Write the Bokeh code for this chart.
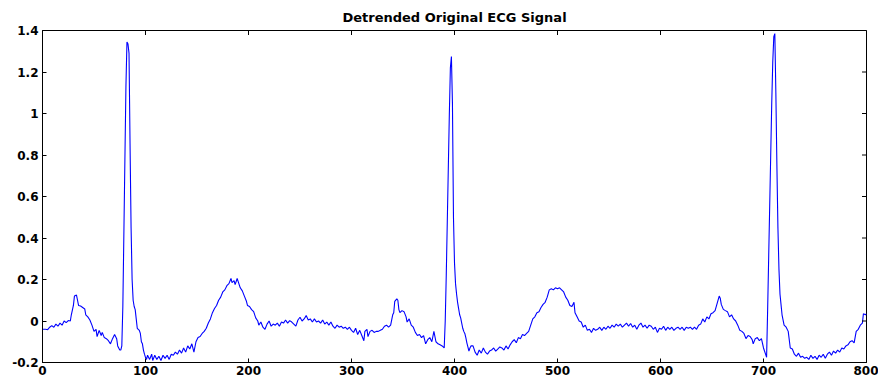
import math
from bokeh.plotting import figure
from bokeh.models import Range1d, FixedTicker
from bokeh.embed import file_html
from bokeh.resources import INLINE

# ---- data (sample index, detrended amplitude) ----
seg1_x = [0, 3, 5, 7, 9, 11, 13, 15, 17, 19,
          21, 23, 25, 27, 28, 30, 31, 33, 34, 35,
          37, 39, 41, 42, 44, 46, 48, 50, 52, 53,
          55, 57, 58, 60, 62, 64, 66, 68, 70, 72,
          73, 75, 76, 77]
seg1_y = [-0.040, -0.040, -0.042, -0.030, -0.022, -0.030, -0.015, -0.025, -0.010, -0.020,
          0.000, -0.008, 0.002, 0.000, 0.030, 0.075, 0.120, 0.125, 0.100, 0.075,
          0.072, 0.065, 0.058, 0.030, 0.020, 0.005, -0.020, -0.050, -0.040, -0.075,
          -0.045, -0.070, -0.055, -0.080, -0.085, -0.095, -0.110, -0.085, -0.065, -0.085,
          -0.120, -0.140, -0.140, -0.120]

seg2_x = [78, 79, 80, 81, 82, 83, 84, 85, 86, 87,
          88, 89, 90, 91, 92, 93, 94, 95, 96, 97,
          98, 99, 100, 101, 102, 104, 106, 107, 109, 111,
          113, 115, 117, 119, 121, 123, 125, 127, 129, 131,
          133, 135, 137, 139, 141, 143, 145, 147, 149, 151,
          153, 155, 157, 159, 161, 163, 165, 167, 169, 171,
          173, 175, 177, 179, 181, 183, 184, 186, 187, 189,
          190, 192, 194, 196, 198, 199, 201, 203, 205, 207,
          209, 210, 212, 214, 216, 218, 220, 222, 224, 226,
          228, 230, 232, 234, 236, 238, 240, 242, 244, 246,
          248, 250, 252, 254, 256, 258, 260, 262, 264, 266,
          268, 270, 272, 274, 276, 278, 280, 282, 284, 286,
          288, 290, 292, 294, 296, 298, 300, 302, 304, 306,
          308, 310, 312, 313, 315, 316, 318, 320, 322, 324,
          326, 328, 330, 332, 334, 336, 338, 340, 341, 342,
          344, 345, 346, 347, 349, 351, 353, 354, 356, 358,
          360, 362, 364, 366, 368, 370, 372, 374, 376, 378,
          380, 382, 384, 386, 388, 390]
seg2_y = [0.070, 0.420, 0.780, 1.130, 1.345, 1.335, 1.290, 0.850, 0.450, 0.200,
          0.100, 0.070, 0.055, 0.010, -0.035, -0.040, -0.045, -0.060, -0.100, -0.110,
          -0.140, -0.160, -0.175, -0.185, -0.165, -0.185, -0.160, -0.190, -0.165, -0.185,
          -0.170, -0.190, -0.165, -0.180, -0.165, -0.185, -0.160, -0.165, -0.150, -0.160,
          -0.140, -0.155, -0.130, -0.150, -0.120, -0.135, -0.110, -0.150, -0.100, -0.080,
          -0.075, -0.060, -0.050, -0.035, -0.010, 0.010, 0.040, 0.060, 0.075, 0.100,
          0.115, 0.140, 0.150, 0.170, 0.180, 0.205, 0.185, 0.195, 0.175, 0.205,
          0.190, 0.160, 0.145, 0.120, 0.095, 0.075, 0.070, 0.055, 0.045, 0.015,
          0.000, -0.020, -0.005, -0.030, -0.040, -0.015, 0.000, -0.025, -0.015, -0.020,
          -0.010, -0.025, -0.005, -0.010, 0.005, -0.010, 0.002, -0.005, -0.015, -0.025,
          0.005, 0.018, 0.000, 0.010, 0.026, 0.005, 0.010, -0.005, 0.010, -0.005,
          0.000, -0.010, 0.005, -0.015, -0.005, -0.020, -0.005, -0.025, -0.035, -0.020,
          -0.030, -0.025, -0.035, -0.030, -0.040, -0.030, -0.045, -0.055, -0.035, -0.065,
          -0.045, -0.070, -0.095, -0.050, -0.040, -0.075, -0.050, -0.045, -0.055, -0.050,
          -0.050, -0.045, -0.040, -0.025, -0.020, -0.030, -0.020, 0.030, 0.040, 0.095,
          0.107, 0.100, 0.055, 0.040, 0.050, 0.045, 0.020, -0.005, 0.010, -0.020,
          -0.030, -0.055, -0.070, -0.065, -0.080, -0.070, -0.110, -0.090, -0.080, -0.100,
          -0.050, -0.100, -0.110, -0.115, -0.120, -0.130]

seg3_x = [391, 392, 393, 394, 395, 396, 397, 398, 399, 400,
          401, 402, 403, 404, 405, 406, 407, 408, 409, 410,
          411, 412, 413, 414, 415, 416, 418, 420, 422, 424,
          426, 428, 430, 432, 434, 436, 438, 440, 442, 444,
          446, 448, 450, 452, 454, 456, 458, 460, 462, 464,
          466, 468, 470, 472, 474, 476, 478, 480, 482, 484,
          486, 488, 490, 492, 494, 496, 498, 500, 502, 504,
          506, 508, 510, 512, 514, 516, 517, 519, 521, 523,
          525, 527, 529, 531, 533, 535, 537, 539, 541, 543,
          545, 547, 549, 551, 553, 555, 557, 559, 561, 563,
          565, 567, 569, 571, 573, 575, 577, 579, 581, 583,
          585, 587, 589, 591, 593, 595, 597, 599, 601, 603,
          605, 607, 609, 611, 613, 615, 617, 619, 621, 623,
          625, 627, 629, 631, 633, 635, 637, 639, 641, 643,
          645, 647, 649, 651, 653, 655, 657, 658, 659, 661,
          663, 665, 667, 669, 671, 673, 675, 677, 679, 681,
          683, 685, 687, 689, 690, 692, 694, 696, 698, 700,
          702, 703]
seg3_y = [0.000, 0.220, 0.480, 0.740, 1.000, 1.220, 1.275, 1.050, 0.500, 0.280,
          0.180, 0.130, 0.090, 0.060, 0.030, 0.015, -0.010, -0.035, -0.050, -0.060,
          -0.080, -0.105, -0.125, -0.145, -0.130, -0.120, -0.120, -0.150, -0.165, -0.140,
          -0.155, -0.130, -0.150, -0.160, -0.145, -0.140, -0.130, -0.145, -0.135, -0.125,
          -0.130, -0.140, -0.120, -0.135, -0.115, -0.100, -0.090, -0.105, -0.080, -0.085,
          -0.065, -0.070, -0.060, -0.050, -0.020, 0.010, 0.020, 0.040, 0.045, 0.065,
          0.080, 0.090, 0.115, 0.150, 0.155, 0.150, 0.160, 0.155, 0.160, 0.150,
          0.140, 0.115, 0.100, 0.075, 0.070, 0.090, 0.040, 0.020, 0.000, -0.005,
          -0.030, -0.020, -0.045, -0.040, -0.055, -0.035, -0.045, -0.040, -0.030, -0.045,
          -0.030, -0.040, -0.025, -0.035, -0.020, -0.030, -0.015, -0.025, -0.015, -0.030,
          -0.020, -0.010, -0.025, -0.012, -0.030, -0.020, -0.040, -0.020, -0.010, -0.030,
          -0.020, -0.035, -0.020, -0.025, -0.040, -0.030, -0.055, -0.035, -0.040, -0.025,
          -0.045, -0.030, -0.040, -0.030, -0.045, -0.035, -0.030, -0.040, -0.030, -0.045,
          -0.030, -0.035, -0.030, -0.040, -0.030, -0.040, -0.020, -0.015, 0.010, -0.005,
          0.020, 0.010, 0.035, 0.040, 0.050, 0.085, 0.120, 0.110, 0.080, 0.056,
          0.050, 0.045, 0.020, 0.030, 0.010, 0.000, -0.020, -0.045, -0.050, -0.060,
          -0.085, -0.070, -0.075, -0.090, -0.110, -0.085, -0.080, -0.095, -0.085, -0.130,
          -0.160, -0.175]

seg4_x = [704, 705, 706, 707, 708, 709, 710, 711, 712, 713,
          714, 715, 716, 717, 718, 720, 722, 724, 726, 728,
          730, 732, 734, 736, 738, 740, 742, 744, 746, 748,
          750, 752, 754, 756, 758, 760, 762, 764, 766, 768,
          770, 772, 774, 776, 778, 780, 782, 784, 786, 788,
          790, 792, 794, 796, 797, 799, 800]
seg4_y = [0.050, 0.300, 0.550, 0.800, 1.050, 1.250, 1.370, 1.385, 1.100, 0.750,
          0.450, 0.250, 0.130, 0.080, 0.030, -0.020, -0.030, -0.050, -0.130, -0.135,
          -0.160, -0.170, -0.155, -0.175, -0.170, -0.180, -0.175, -0.185, -0.165, -0.180,
          -0.170, -0.185, -0.165, -0.175, -0.160, -0.180, -0.160, -0.150, -0.165, -0.145,
          -0.155, -0.140, -0.150, -0.130, -0.135, -0.120, -0.115, -0.100, -0.095, -0.105,
          -0.050, -0.040, -0.020, -0.010, 0.035, 0.030, 0.035]

x_ticks = [0, 100, 200, 300, 400, 500, 600, 700, 800]
y_ticks = [-0.2, 0, 0.2, 0.4, 0.6, 0.8, 1.0, 1.2, 1.4]
y_tick_labels = ["-0.2", "0", "0.2", "0.4", "0.6", "0.8", "1", "1.2", "1.4"]
title_text = "Detrended Original ECG Signal"

xs = seg1_x + seg2_x + seg3_x + seg4_x
ys = seg1_y + seg2_y + seg3_y + seg4_y
assert len(xs) == len(ys)

X0, X1 = 0, 800
Y0, Y1 = -0.2, 1.4
FONT = "DejaVu Sans"

p = figure(width=878, height=378, output_backend="svg", toolbar_location=None,
           x_range=Range1d(X0, X1), y_range=Range1d(Y0, Y1),
           title=title_text, min_border_left=42, min_border_right=12,
           min_border_top=30, min_border_bottom=16)
p.title.align = "center"
p.title.text_font = FONT
p.title.text_font_style = "bold"
p.title.text_font_size = "13px"
p.title.text_color = "black"
p.title.offset = 0
p.title.standoff = 11

p.xgrid.visible = False
p.ygrid.visible = False
p.background_fill_color = "white"
p.border_fill_color = "white"
p.outline_line_color = "black"
p.outline_line_width = 1

p.line(xs, ys, line_color="#0000ff", line_width=1.1)

# inward ticks on the top and right edges of the box (drawn as clipped dashes)
p.scatter(x=x_ticks, y=[Y1] * len(x_ticks), marker="dash", size=9,
          angle=math.pi / 2, line_color="black", line_width=1)
p.scatter(x=[X1] * len(y_ticks), y=y_ticks, marker="dash", size=9,
          line_color="black", line_width=1)

def style_axis(ax):
    ax.major_tick_in = 4
    ax.major_tick_out = 0
    ax.minor_tick_line_color = None
    ax.axis_line_color = "black"
    ax.major_tick_line_color = "black"
    ax.major_label_text_font = FONT
    ax.major_label_text_font_style = "bold"
    ax.major_label_text_font_size = "12px"
    ax.major_label_text_color = "black"
    ax.major_label_standoff = 4

xa = p.xaxis[0]
xa.ticker = FixedTicker(ticks=x_ticks)
style_axis(xa)
xa.major_label_standoff = 3
ya = p.yaxis[0]
ya.ticker = FixedTicker(ticks=y_ticks)
ya.major_label_overrides = {t: l for t, l in zip(y_ticks, y_tick_labels)}
style_axis(ya)

open("out.html", "w").write(file_html(p, INLINE))
